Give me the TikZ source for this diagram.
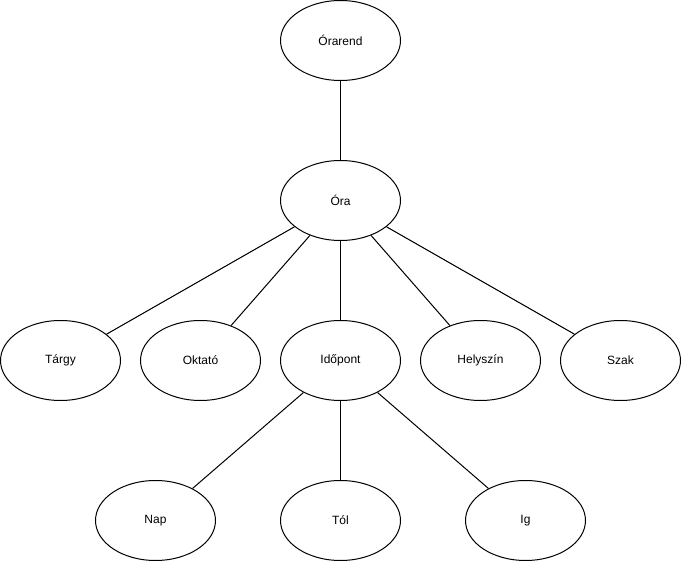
\documentclass[tikz,border=0pt]{standalone}
\usepackage{fontspec}
\setmainfont{Liberation Sans}
\usetikzlibrary{shapes.geometric}
\begin{document}
\begin{tikzpicture}[x=1pt,y=-1pt,
  entity/.style={ellipse,draw=black,line width=1pt,fill=white,
    minimum width=120pt,minimum height=80pt,inner sep=0pt,
    font=\fontsize{12}{14}\selectfont},
  link/.style={draw=black,line width=1pt}]
\useasboundingbox (0,0) rectangle (681,561);
% hierarchy of the timetable entities
\node[entity] (orarend)  at (340.5,40.5)  {Órarend};
\node[entity] (ora)      at (340.5,200.5) {Óra};
\node[entity] (targy)    at (60.5,360.5)  {Tárgy};
\node[entity] (oktato)   at (200.5,360.5) {Oktató};
\node[entity] (idopont)  at (340.5,360.5) {Időpont};
\node[entity] (helyszin) at (480.5,360.5) {Helyszín};
\node[entity] (szak)     at (620.5,360.5) {Szak};
\node[entity] (nap)      at (155.5,520.5) {Nap};
\node[entity] (tol)      at (340.5,520.5) {Tól};
\node[entity] (ig)       at (525.5,520.5) {Ig};
% connectors
\draw[link] (orarend) -- (ora);
\foreach \n in {targy,oktato,idopont,helyszin,szak}
  \draw[link] (ora) -- (\n);
\foreach \n in {nap,tol,ig}
  \draw[link] (idopont) -- (\n);
\end{tikzpicture}
\end{document}
